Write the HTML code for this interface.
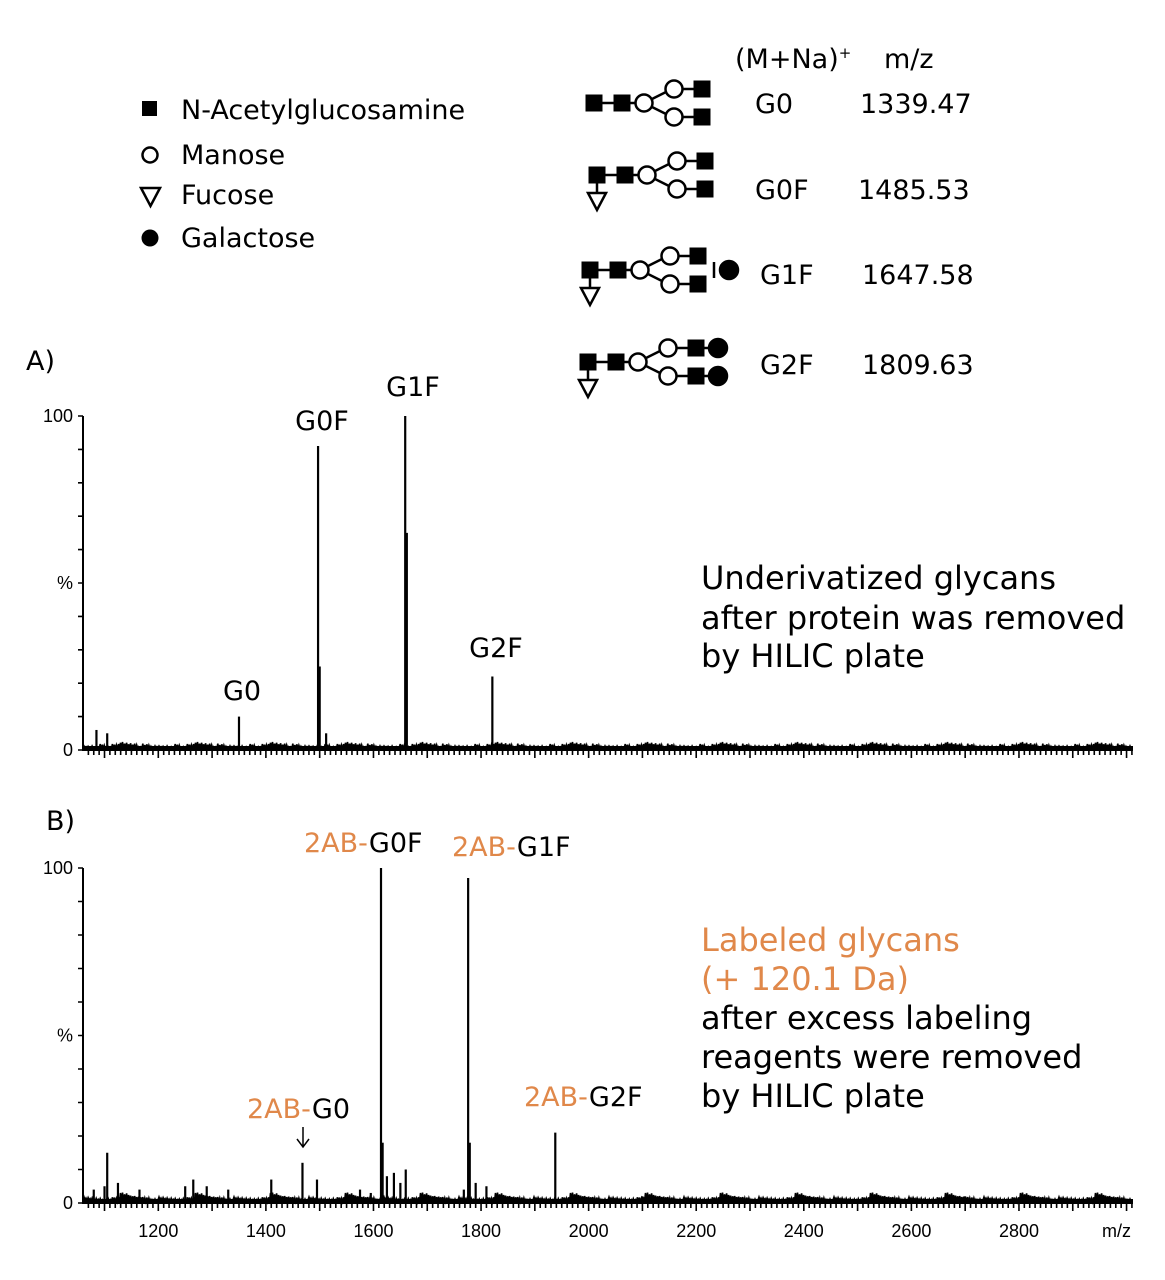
<!DOCTYPE html>
<html><head><meta charset="utf-8">
<style>
html,body{margin:0;padding:0;background:#fff;}
svg{display:block;font-family:"DejaVu Sans","Liberation Sans",sans-serif;}
.lbl{font-size:27px;fill:#000;}
.big{font-size:32px;fill:#000;}
.or{fill:#E0884A;}
.tick{font-family:"Liberation Sans",sans-serif;font-size:18px;fill:#000;}
</style></head>
<body>
<svg id="fig" width="1165" height="1280" viewBox="0 0 1165 1280" xmlns="http://www.w3.org/2000/svg">
<g id="legend">
  <rect x="142" y="101" width="15" height="15" fill="#000"/>
  <text class="lbl" x="181" y="119">N-Acetylglucosamine</text>
  <circle cx="150" cy="155" r="7.5" fill="none" stroke="#000" stroke-width="2.5"/>
  <text class="lbl" x="181" y="164">Manose</text>
  <path d="M141,188 L160,188 L150.5,206 Z" fill="none" stroke="#000" stroke-width="2.5"/>
  <text class="lbl" x="181" y="204">Fucose</text>
  <circle cx="150" cy="238" r="8.5" fill="#000"/>
  <text class="lbl" x="181" y="247">Galactose</text>
</g>
<g id="glytable">
  <text class="lbl" x="735" y="68">(M+Na)<tspan font-size="15" dy="-10">+</tspan></text>
  <text class="lbl" x="884" y="68">m/z</text>
</g>
<g id="structs"></g>
<g id="panelA"></g>
<g id="panelB"></g>
</svg>
<script>
// ----- data -----
const glycanNames = ["G0","G0F","G1F","G2F"];
const glycanMz = ["1339.47","1485.53","1647.58","1809.63"];
const peaksA_mz = [1085,1105,1350,1497,1500,1512,1659,1662,1821];
const peaksA_int = [6,5,10,91,25,5,100,65,22];
const peaksB_mz = [1080,1100,1105,1125,1165,1250,1265,1290,1330,1410,1468,1495,1575,1595,1614,1617,1625,1638,1650,1660,1768,1776,1779,1790,1810,1938,1980,2100,2700];
const peaksB_int = [4,5,15,6,4,5,7,5,4,7,12,7,4,3,100,18,8,9,6,10,4,97,18,6,5,21,2,2,2];
const noiseA = [2.2,1.2,2.4,1.0,1.9,1.1,2.2,0.9,1.7,1.2,2.0,0.8,1.6,1.0,1.9,0.9,1.5,1.8,1.0,1.6,0.9,1.4,1.9,0.8,1.5,1.0,1.7,0.9,1.4,1.8,1.1,1.6,0.9,1.5,1.2,1.8,1.0];
const noiseB = [3.0,1.8,3.1,1.5,2.6,1.6,2.9,1.3,2.4,1.5,2.2,1.2,2.0,1.4,2.1,1.1,1.8,1.3,1.9,1.0,1.7,1.2,1.8,1.0,1.5,1.3,1.6,1.0,1.5,1.7,1.1,1.6,1.0,1.4,1.2,1.7,1.0];
const xTickLabels = [1200,1400,1600,1800,2000,2200,2400,2600,2800];
const ns="http://www.w3.org/2000/svg";
function mk(tag,attrs,parent){const e=document.createElementNS(ns,tag);for(const k in attrs)e.setAttribute(k,attrs[k]);parent.appendChild(e);return e;}
const X0=83,X1=1133,MZ0=1060,MZ1=3012;
function xs(m){return X0+(m-MZ0)/(MZ1-MZ0)*(X1-X0);}

const st=document.getElementById('structs');
function sq(x,y,p){const e=mk('rect',{x:x-8.5,y:y-8.5,width:17,height:17,fill:'#000'},p);}
function ci(x,y,p,fill){const e=mk('circle',{cx:x,cy:y,r:fill?9:8.5,fill:fill?'#000':'#fff',stroke:'#000','stroke-width':2.5},p);}
function ln(x1,y1,x2,y2,p){mk('line',{x1,y1,x2,y2,stroke:'#000','stroke-width':2.5},p);}
const rowY=[103,175,270,362];
const rowX=[594,597,590,588];
const textY=[113,199,284,374];
const textX=[755,755,760,760], mzX=[860,858,862,862];
glycanNames.forEach((n,i)=>{
  const g=mk('g',{},st);
  
  
  const x=rowX[i],y=rowY[i];
  ln(x,y,x+28,y,g);ln(x+28,y,x+50,y,g);
  ln(x+50,y,x+78,y-14,g);ln(x+50,y,x+78,y+14,g);
  ln(x+78,y-14,x+108,y-14,g);ln(x+78,y+14,x+108,y+14,g);
  if(i>0){ln(x,y,x,y+18,g);const t=mk('path',{d:`M${x-9},${y+18} L${x+9},${y+18} L${x},${y+35} Z`,fill:'#fff',stroke:'#000','stroke-width':2.5},g);}
  sq(x,y,g);sq(x+28,y,g);ci(x+50,y,g,false);ci(x+80,y-14,g,false);ci(x+80,y+14,g,false);
  sq(x+108,y-14,g);sq(x+108,y+14,g);
  if(i==2){ln(x+124,y-8,x+124,y+8,g);ci(x+139,y,g,true);}
  if(i==3){ln(x+108,y-14,x+130,y-14,g);ln(x+108,y+14,x+130,y+14,g);ci(x+130,y-14,g,true);ci(x+130,y+14,g,true);}
  const t1=mk('text',{x:textX[i],y:textY[i],class:'lbl'},g);t1.textContent=n;
  
  
  const t2=mk('text',{x:mzX[i],y:textY[i],class:'lbl'},g);t2.textContent=glycanMz[i];
  
  
});

function panel(p,yTop,yBot,pmz,pint,noise,showX){
  const ys=v=>yBot-v/100*(yBot-yTop);
  const ax=mk('path',{d:`M${X0},${yTop} L${X0},${yBot} L${X1},${yBot}`,fill:'none',stroke:'#000','stroke-width':2},p);
  
  let d='';
  for(let v=0;v<=100;v+=10)d+=`M${X0-5},${ys(v)} L${X0},${ys(v)} `;
  for(let m=1070;m<=3010;m+=10){const L=(m%100==0)?8:5;d+=`M${xs(m)},${yBot} L${xs(m)},${yBot+L} `;}
  const tk=mk('path',{d,stroke:'#000','stroke-width':1.6},p);
  
  [[100,'100'],[50,'%'],[0,'0']].forEach(([v,s])=>{const t=mk('text',{x:X0-10,y:ys(v)+6,class:'tick','text-anchor':'end','font-size':v==50?10:17},p);t.textContent=s;});
  let nd='';const N=noise.length*28;const step=(MZ1-MZ0)/N;
  for(let k=0;k<N;k++){const m=MZ0+k*step;const v=noise[k%noise.length]*(k%2?1:0.3);nd+=(k?'L':'M')+xs(m).toFixed(1)+','+ys(v).toFixed(1)+' ';}
  const nb=mk('path',{d:nd,fill:'none',stroke:'#000','stroke-width':1.6},p);
  
  const fb=mk('rect',{x:X0,y:yBot-4,width:X1-X0,height:4,fill:'#000'},p);
  
  pmz.forEach((m,i)=>{const l=mk('line',{x1:xs(m),x2:xs(m),y1:yBot,y2:ys(pint[i]),stroke:'#000','stroke-width':2.2},p);
    });
  if(showX){
    xTickLabels.forEach(v=>{const t=mk('text',{x:xs(v),y:yBot+34,class:'tick','text-anchor':'middle'},p);t.textContent=v;});
    const t=mk('text',{x:1131,y:yBot+34,class:'tick','text-anchor':'end'},p);t.textContent='m/z';
  }
  return ys;
}
const A=document.getElementById('panelA'),B=document.getElementById('panelB');
panel(A,416,750,peaksA_mz,peaksA_int,noiseA,false);
panel(B,868,1203,peaksB_mz,peaksB_int,noiseB,true);
function txt(p,x,y,html,name,anchor,cls){const t=mk('text',{x,y,class:cls||'lbl','text-anchor':anchor||'start'},p);t.innerHTML=html;return t;}
txt(A,26,370,'A)','panel-a-label');
txt(A,242,700,'G0','peak-label-g0','middle');
txt(A,322,430,'G0F','peak-label-g0f','middle');
txt(A,413,396,'G1F','peak-label-g1f','middle');
txt(A,496,657,'G2F','peak-label-g2f','middle');
txt(A,701,589,'Underivatized glycans','annotation-a-line1','start','big');
txt(A,701,629,'after protein was removed','annotation-a-line2','start','big');
txt(A,701,667,'by HILIC plate','annotation-a-line3','start','big');
txt(B,46,830,'B)','panel-b-label');
txt(B,304,852,'<tspan class="or">2AB-</tspan>G0F','peak-label-2ab-g0f');
txt(B,452,856,'<tspan class="or">2AB-</tspan>G1F','peak-label-2ab-g1f');
txt(B,247,1118,'<tspan class="or">2AB-</tspan>G0','peak-label-2ab-g0');
txt(B,524,1106,'<tspan class="or">2AB-</tspan>G2F','peak-label-2ab-g2f');
const ar=mk('path',{d:'M303,1127 L303,1146 M297,1139 L303,1147 L309,1139',fill:'none',stroke:'#000','stroke-width':1.5},B);

txt(B,701,951,'<tspan class="or">Labeled glycans</tspan>','annotation-b-line1','start','big');
txt(B,701,990,'<tspan class="or">(+ 120.1 Da)</tspan>','annotation-b-line2','start','big');
txt(B,701,1029,'after excess labeling','annotation-b-line3','start','big');
txt(B,701,1068,'reagents were removed','annotation-b-line4','start','big');
txt(B,701,1107,'by HILIC plate','annotation-b-line5','start','big');
</script>
</body></html>
